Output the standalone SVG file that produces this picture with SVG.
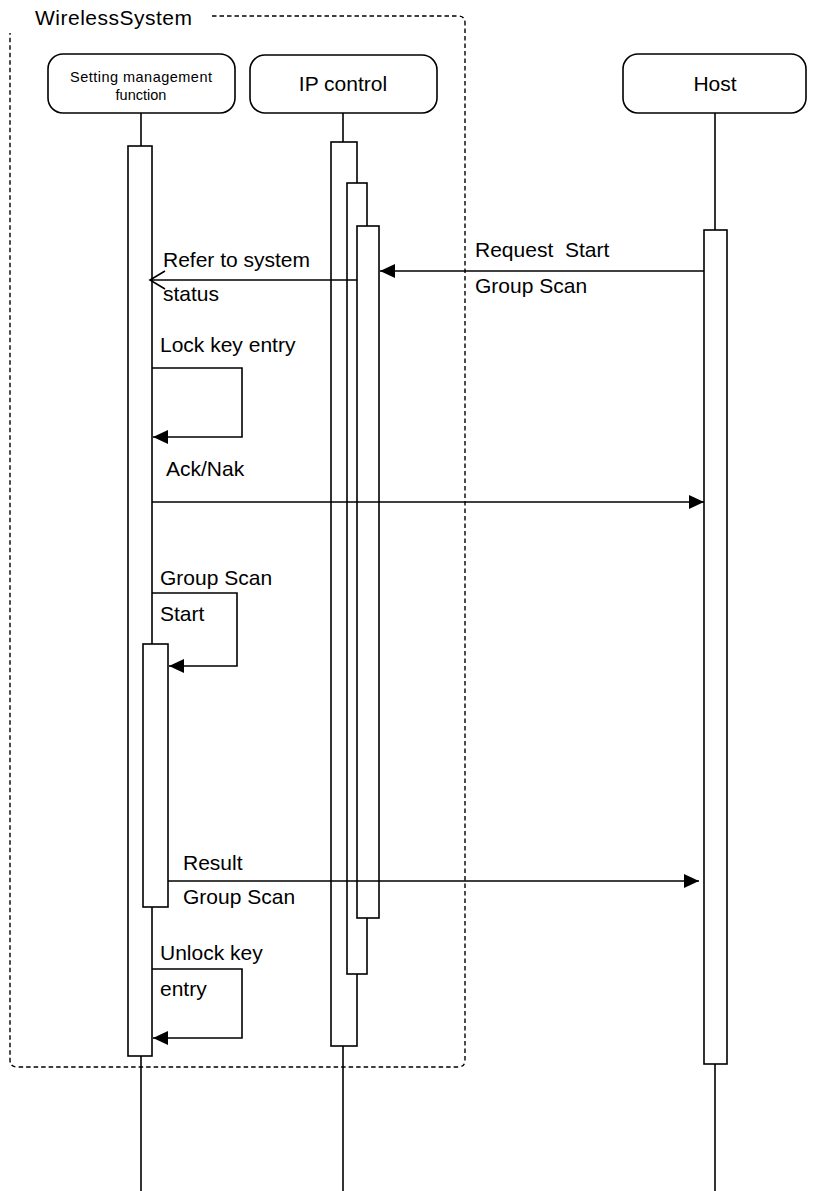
<svg xmlns="http://www.w3.org/2000/svg" width="813" height="1191" viewBox="0 0 813 1191">
<defs>
<style>
text{font-family:"Liberation Sans",Arial,sans-serif;fill:#000}
.lbl{font-size:21px}
.node rect.box{fill:#fff;stroke:#000;stroke-width:1.6}
.life{stroke:#000;stroke-width:1.6;fill:none}
.bar{fill:#fff;stroke:#000;stroke-width:1.6}
.msg{stroke:#000;stroke-width:1.6;fill:none}
.frame{fill:none;stroke:#000;stroke-width:1.4;stroke-dasharray:4.5 3}
</style>
<marker id="ah" viewBox="0 0 15 14" refX="15" refY="7" markerWidth="15" markerHeight="14" markerUnits="userSpaceOnUse" orient="auto">
<path d="M0,0 L15,7 L0,14 Z" fill="#000"/>
</marker>
</defs>
<rect width="813" height="1191" fill="#fff"/>

<g id="frame">
<path class="frame" d="M212,16 H458 Q465,16 465,23 V1060 Q465,1067 458,1067 H17 Q10,1067 10,1060 V33"/>
<text class="lbl" x="35" y="25" textLength="157">WirelessSystem</text>
</g>

<g id="lifelines">
<line class="life" x1="141" y1="113" x2="141" y2="1191"/>
<line class="life" x1="343" y1="113" x2="343" y2="1191"/>
<line class="life" x1="715" y1="113" x2="715" y2="1191"/>
</g>

<g id="node-setting" class="node">
<rect class="box" x="48" y="54" width="187" height="59" rx="15"/>
<text x="141" y="82" font-size="14.5" text-anchor="middle" textLength="142">Setting management</text>
<text x="141" y="100" font-size="14.5" text-anchor="middle">function</text>
</g>
<g id="node-ip" class="node">
<rect class="box" x="250" y="55" width="187" height="58" rx="15"/>
<text class="lbl" x="343" y="91" text-anchor="middle">IP control</text>
</g>
<g id="node-host" class="node">
<rect class="box" x="623" y="54" width="183" height="59" rx="15"/>
<text class="lbl" x="715" y="91" text-anchor="middle">Host</text>
</g>

<g id="activations">
<rect class="bar" x="128" y="146" width="24" height="910"/>
<rect class="bar" x="331" y="142" width="26" height="904"/>
<rect class="bar" x="347" y="183" width="20" height="791"/>
<rect class="bar" x="357" y="226" width="22" height="692"/>
<rect class="bar" x="704" y="230" width="23" height="834"/>
<rect class="bar" x="143" y="644" width="25" height="263"/>
</g>

<g id="connectors">
<line class="msg" x1="704" y1="271" x2="380" y2="271" marker-end="url(#ah)"/>
<line class="msg" x1="357" y1="280" x2="150" y2="280"/>
<polyline class="msg" points="165,271 150,280 165,289"/>
<polyline class="msg" points="152,368 242,368 242,437 153,437" marker-end="url(#ah)"/>
<line class="msg" x1="152" y1="502" x2="704" y2="502" marker-end="url(#ah)"/>
<polyline class="msg" points="152,593 237,593 237,666 169,666" marker-end="url(#ah)"/>
<line class="msg" x1="168" y1="881" x2="699" y2="881" marker-end="url(#ah)"/>
<polyline class="msg" points="152,969 242,969 242,1038 153,1038" marker-end="url(#ah)"/>
</g>

<g id="labels">
<text class="lbl" x="475" y="257" xml:space="preserve">Request  Start</text>
<text class="lbl" x="475" y="293">Group Scan</text>
<text class="lbl" x="163" y="267">Refer to system</text>
<text class="lbl" x="163" y="301">status</text>
<text class="lbl" x="160" y="352">Lock key entry</text>
<text class="lbl" x="166" y="476">Ack/Nak</text>
<text class="lbl" x="160" y="585">Group Scan</text>
<text class="lbl" x="160" y="621">Start</text>
<text class="lbl" x="183" y="870">Result</text>
<text class="lbl" x="183" y="904">Group Scan</text>
<text class="lbl" x="160" y="960">Unlock key</text>
<text class="lbl" x="160" y="996">entry</text>
</g>
</svg>
